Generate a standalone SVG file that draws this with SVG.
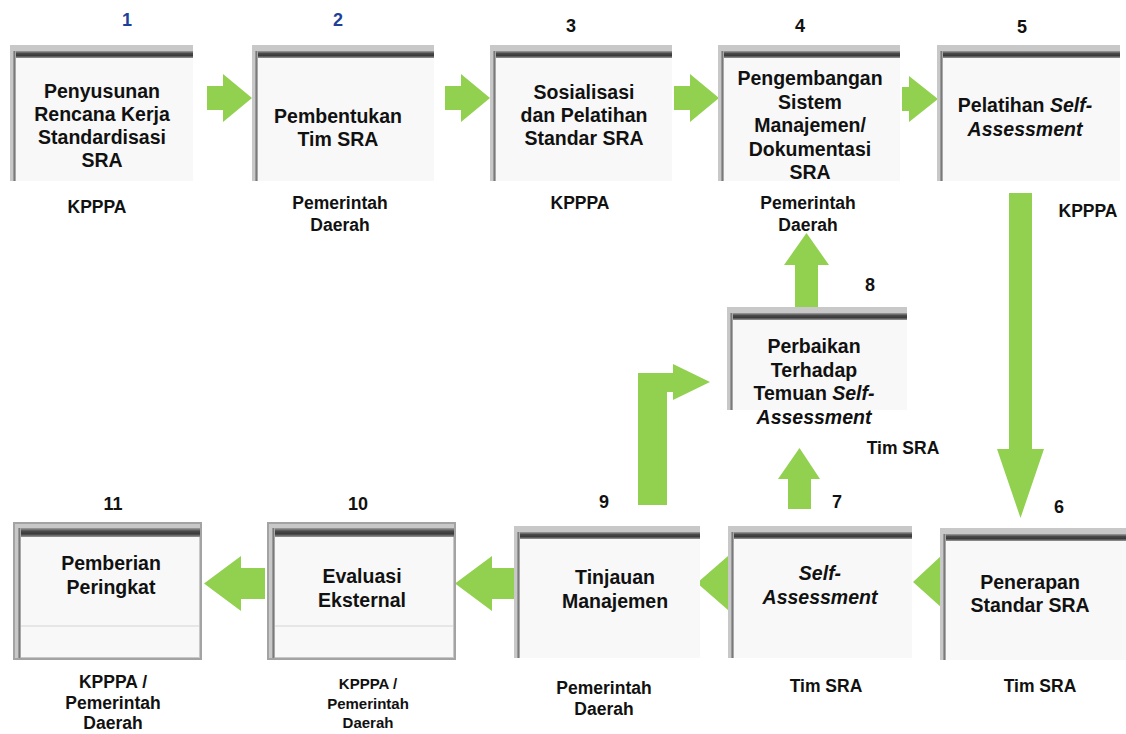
<svg xmlns="http://www.w3.org/2000/svg" width="1126" height="734" viewBox="0 0 1126 734">
<defs>
<linearGradient id="band" x1="0" y1="0" x2="0" y2="1">
<stop offset="0" stop-color="#a0a0a0"/>
<stop offset="0.35" stop-color="#4a4a4a"/>
<stop offset="0.65" stop-color="#3a3a3a"/>
<stop offset="1" stop-color="#9a9a9a"/>
</linearGradient>
<linearGradient id="edge" x1="0" y1="0" x2="1" y2="0">
<stop offset="0" stop-color="#a8a8a8"/>
<stop offset="0.5" stop-color="#7a7a7a"/>
<stop offset="1" stop-color="#c0c0c0"/>
</linearGradient>
</defs>
<style>
text{font-family:"Liberation Sans",Arial,sans-serif;font-weight:bold;fill:#111;text-anchor:middle}
.t{font-size:19.5px}
.l{font-size:17.5px}
.s{font-size:15px}
.n{font-size:18px}
.blue{fill:#1f3f99}
.i{font-style:italic}
.frame{fill:#c8c8c8}
.frame2{fill:#c8c8c8;stroke:#a3a3a3;stroke-width:2}
.band{fill:url(#band)}
.edge{fill:url(#edge)}
.face{fill:#f8f8f8}
.rule{stroke:#e6e6e6;stroke-width:2}
.arrow{fill:#92d050}
</style>
<rect width="1126" height="734" fill="#ffffff"/>

<g id="connectors">
<polygon class="arrow" points="207,86 223,86 223,74 252,98 223,122 223,110 207,110"/>
<polygon class="arrow" points="445,86 461,86 461,74 490,98 461,122 461,110 445,110"/>
<polygon class="arrow" points="674,86 690,86 690,74 719,98 690,122 690,110 674,110"/>
<polygon class="arrow" points="902,87 909,87 909,76 938,99 909,122 909,111 902,111"/>
<polygon class="arrow" points="1009,193 1032,193 1032,449 1044,449 1020.5,518 997,449 1009,449"/>
<polygon class="arrow" points="913,582 942,555 942,568 960,568 960,597 942,597 942,608"/>
<polygon class="arrow" points="697,583 728,556 728,569 745,569 745,598 728,598 728,610"/>
<polygon class="arrow" points="455,583.5 492,556 492,568 515,568 515,599 492,599 492,611"/>
<polygon class="arrow" points="204,583.5 241,556 241,568 265,568 265,599 241,599 241,611"/>
<polygon class="arrow" points="788,509 811,509 811,479 820,479 799.5,448 778,479 788,479"/>
<polygon class="arrow" points="795,307 818,307 818,265 829,265 806.5,233 784,265 795,265"/>
<polygon class="arrow" points="638,505 667,505 667,392 673,392 673,400 710,382 673,364 673,373 638,373"/>
</g>

<g id="node1">
<rect class="frame" x="10" y="45" width="183" height="136"/>
<rect class="band" x="13" y="51" width="180" height="7"/>
<rect class="edge" x="13" y="51" width="3" height="130"/>
<rect class="face" x="16" y="58" width="177" height="123"/>
<text class="n blue" x="127" y="26">1</text>
<text class="t" x="102" y="98">Penyusunan</text>
<text class="t" x="102" y="121">Rencana Kerja</text>
<text class="t" x="102" y="144">Standardisasi</text>
<text class="t" x="102" y="167">SRA</text>
<text class="l" x="97" y="213">KPPPA</text>
</g>

<g id="node2">
<rect class="frame" x="252" y="45" width="182" height="136"/>
<rect class="band" x="255" y="51" width="179" height="7"/>
<rect class="edge" x="255" y="51" width="3" height="130"/>
<rect class="face" x="258" y="58" width="176" height="123"/>
<text class="n blue" x="338" y="26">2</text>
<text class="t" x="338" y="123">Pembentukan</text>
<text class="t" x="338" y="146">Tim SRA</text>
<text class="l" x="340" y="209">Pemerintah</text>
<text class="l" x="340" y="231">Daerah</text>
</g>

<g id="node3">
<rect class="frame" x="490" y="45" width="182" height="136"/>
<rect class="band" x="493" y="51" width="179" height="7"/>
<rect class="edge" x="493" y="51" width="3" height="130"/>
<rect class="face" x="496" y="58" width="176" height="123"/>
<text class="n" x="571" y="32">3</text>
<text class="t" x="584" y="99">Sosialisasi</text>
<text class="t" x="584" y="122">dan Pelatihan</text>
<text class="t" x="584" y="145">Standar SRA</text>
<text class="l" x="580" y="209">KPPPA</text>
</g>

<g id="node4">
<rect class="frame" x="718" y="45" width="182" height="136"/>
<rect class="band" x="721" y="51" width="179" height="7"/>
<rect class="edge" x="721" y="51" width="3" height="130"/>
<rect class="face" x="724" y="58" width="176" height="123"/>
<text class="n" x="800" y="32">4</text>
<text class="t" x="810" y="85">Pengembangan</text>
<text class="t" x="810" y="108.5">Sistem</text>
<text class="t" x="810" y="132">Manajemen/</text>
<text class="t" x="810" y="155.5">Dokumentasi</text>
<text class="t" x="810" y="179">SRA</text>
<text class="l" x="808" y="209">Pemerintah</text>
<text class="l" x="808" y="231">Daerah</text>
</g>

<g id="node5">
<rect class="frame" x="937" y="45" width="183" height="136"/>
<rect class="band" x="940" y="51" width="180" height="7"/>
<rect class="edge" x="940" y="51" width="3" height="130"/>
<rect class="face" x="943" y="58" width="177" height="123"/>
<text class="n" x="1022" y="33">5</text>
<text class="t" x="1025" y="112">Pelatihan <tspan class="i">Self-</tspan></text>
<text class="t i" x="1025" y="136">Assessment</text>
<text class="l" x="1088" y="217">KPPPA</text>
</g>

<g id="node8">
<rect class="frame" x="727" y="307" width="180" height="103"/>
<rect class="band" x="730" y="313" width="177" height="7"/>
<rect class="edge" x="730" y="313" width="3" height="97"/>
<rect class="face" x="733" y="320" width="174" height="90"/>
<text class="n" x="870" y="291">8</text>
<text class="t" x="814" y="353">Perbaikan</text>
<text class="t" x="814" y="376.5">Terhadap</text>
<text class="t" x="814" y="400">Temuan <tspan class="i">Self-</tspan></text>
<text class="t i" x="814" y="424">Assessment</text>
<text class="l" x="903" y="454">Tim SRA</text>
</g>

<g id="node11">
<rect class="frame2" x="14" y="523" width="187" height="136"/>
<rect class="band" x="18" y="528" width="182" height="9"/>
<rect class="edge" x="18" y="528" width="3" height="130"/>
<rect class="face" x="21" y="537" width="178" height="120"/>
<line class="rule" x1="21" y1="626" x2="199" y2="626"/>
<text class="n" x="113" y="510">11</text>
<text class="t" x="111" y="569.5">Pemberian</text>
<text class="t" x="111" y="593.5">Peringkat</text>
<text class="l" x="113" y="688">KPPPA /</text>
<text class="l" x="113" y="709">Pemerintah</text>
<text class="l" x="113" y="729">Daerah</text>
</g>

<g id="node10">
<rect class="frame2" x="268" y="523" width="187" height="136"/>
<rect class="band" x="272" y="528" width="182" height="9"/>
<rect class="edge" x="272" y="528" width="3" height="130"/>
<rect class="face" x="275" y="537" width="178" height="120"/>
<line class="rule" x1="275" y1="626" x2="453" y2="626"/>
<text class="n" x="358" y="510">10</text>
<text class="t" x="362" y="582.5">Evaluasi</text>
<text class="t" x="362" y="606.5">Eksternal</text>
<text class="s" x="368" y="689">KPPPA /</text>
<text class="s" x="368" y="708.5">Pemerintah</text>
<text class="s" x="368" y="728">Daerah</text>
</g>

<g id="node9">
<rect class="frame" x="514" y="526" width="186" height="132"/>
<rect class="band" x="517" y="532" width="183" height="7"/>
<rect class="edge" x="517" y="532" width="3" height="126"/>
<rect class="face" x="520" y="539" width="180" height="119"/>
<text class="n" x="604" y="508">9</text>
<text class="t" x="615" y="583.5">Tinjauan</text>
<text class="t" x="615" y="607.5">Manajemen</text>
<text class="l" x="604" y="694">Pemerintah</text>
<text class="l" x="604" y="715">Daerah</text>
</g>

<g id="node7">
<rect class="frame" x="728" y="526" width="184" height="132"/>
<rect class="band" x="731" y="532" width="181" height="7"/>
<rect class="edge" x="731" y="532" width="3" height="126"/>
<rect class="face" x="734" y="539" width="178" height="119"/>
<text class="n" x="837" y="508">7</text>
<text class="t i" x="820" y="579.5">Self-</text>
<text class="t i" x="820" y="603.5">Assessment</text>
<text class="l" x="826" y="692">Tim SRA</text>
</g>

<g id="node6">
<rect class="frame" x="940" y="528" width="186" height="132"/>
<rect class="band" x="943" y="534" width="183" height="7"/>
<rect class="edge" x="943" y="534" width="3" height="126"/>
<rect class="face" x="946" y="541" width="180" height="119"/>
<text class="n" x="1059" y="513">6</text>
<text class="t" x="1030" y="588.5">Penerapan</text>
<text class="t" x="1030" y="611.5">Standar SRA</text>
<text class="l" x="1040" y="692">Tim SRA</text>
</g>
</svg>
